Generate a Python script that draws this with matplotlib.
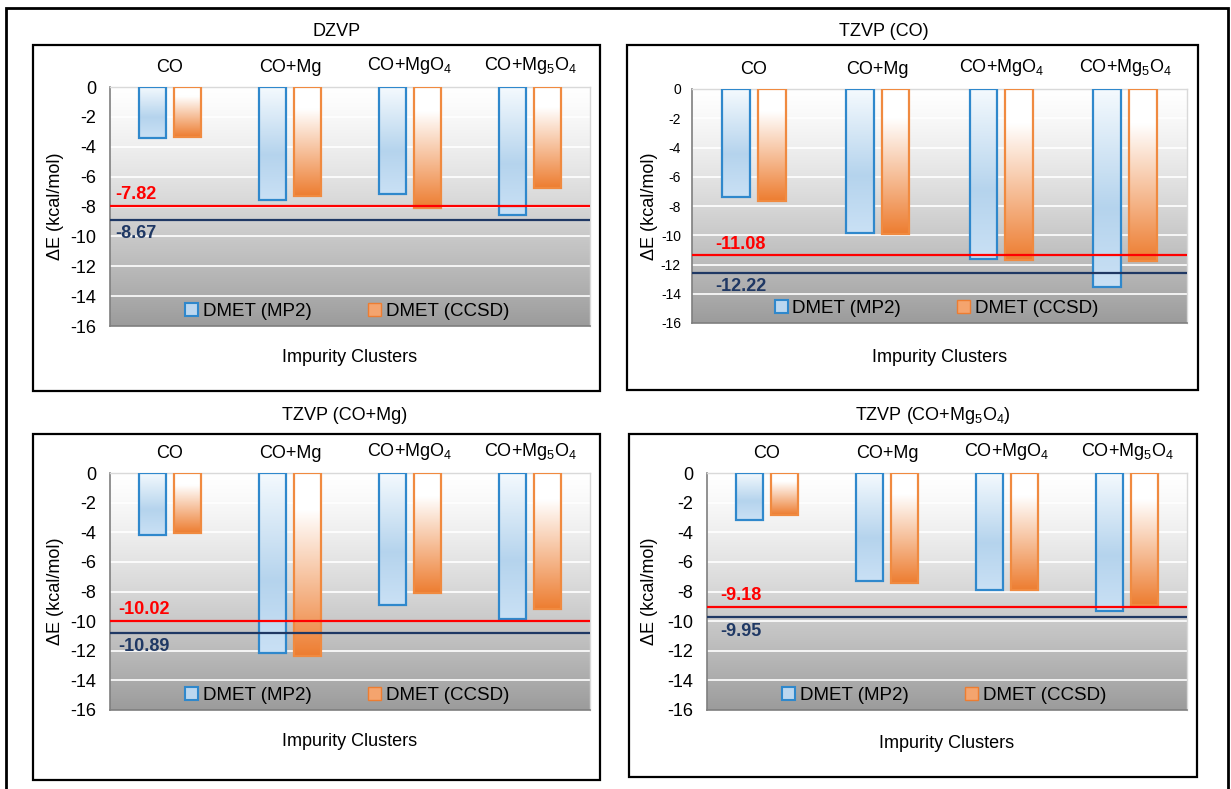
import numpy as np
import matplotlib
matplotlib.use("Agg")
import matplotlib.pyplot as plt
from matplotlib.colors import LinearSegmentedColormap
from matplotlib.patches import Rectangle, Patch

plt.rcParams["font.family"] = ["Liberation Sans", "DejaVu Sans"]
plt.rcParams["mathtext.fontset"] = "custom"
plt.rcParams["mathtext.rm"] = "Liberation Sans"
plt.rcParams["mathtext.default"] = "regular"
plt.rcParams["axes.unicode_minus"] = False

# ---- data (kcal/mol) ----
categories = ["CO", "CO+Mg", "CO+MgO$_4$", "CO+Mg$_5$O$_4$"]

dzvp_mp2 = [-3.44, -7.54, -7.14, -8.56]
dzvp_ccsd = [-3.35, -7.27, -8.09, -6.74]
dzvp_lines = [-7.98, -8.89]
dzvp_line_labels = ["-7.82", "-8.67"]

tzvp_co_mp2 = [-7.38, -9.84, -11.64, -13.53]
tzvp_co_ccsd = [-7.65, -9.89, -11.69, -11.75]
tzvp_co_lines = [-11.37, -12.55]
tzvp_co_line_labels = ["-11.08", "-12.22"]

tzvp_mg_mp2 = [-4.19, -12.18, -8.92, -9.89]
tzvp_mg_ccsd = [-4.05, -12.34, -8.11, -9.19]
tzvp_mg_lines = [-10.00, -10.79]
tzvp_mg_line_labels = ["-10.02", "-10.89"]

tzvp_mg5o4_mp2 = [-3.20, -7.27, -7.92, -9.35]
tzvp_mg5o4_ccsd = [-2.82, -7.45, -7.92, -8.90]
tzvp_mg5o4_lines = [-9.06, -9.73]
tzvp_mg5o4_line_labels = ["-9.18", "-9.95"]

W, H = 1231, 789
fig = plt.figure(figsize=(W / 100, H / 100), dpi=100)


def frac(x0, y0, x1, y1):
    return [x0 / W, 1 - y1 / H, (x1 - x0) / W, (y1 - y0) / H]


blue_cmap = LinearSegmentedColormap.from_list(
    "mp2", [(0, (0.96, 0.98, 0.995)), (0.6, (0.71, 0.83, 0.93)), (1, (0.79, 0.88, 0.96))])
orange_cmap = LinearSegmentedColormap.from_list(
    "ccsd", [(0, (1, 1, 1)), (0.2, (1, 1, 1)), (1, (0.93, 0.49, 0.19))])
bg_vals = 1 - 0.39 * np.linspace(0, 1, 256) ** 1.3
bg_img = np.dstack([bg_vals, bg_vals, bg_vals]).reshape(-1, 1, 3)

panels = [
    dict(title="DZVP", mp2=dzvp_mp2, ccsd=dzvp_ccsd, lines=dzvp_lines,
         labels=dzvp_line_labels, box=(33, 45, 600, 391), plot=(110, 87, 590, 326),
         title_x=337, title_y=32, xlab_y=357, ylab_x=56, tick_fs=13, tick_pad=10,
         lab_x=-0.46),
    dict(title="TZVP (CO)", mp2=tzvp_co_mp2, ccsd=tzvp_co_ccsd, lines=tzvp_co_lines,
         labels=tzvp_co_line_labels, box=(627, 45, 1198, 390), plot=(692, 89, 1187, 323),
         title_x=884, title_y=32, xlab_y=357, ylab_x=650, tick_fs=10, tick_pad=8,
         lab_x=-0.31),
    dict(title="TZVP (CO+Mg)", mp2=tzvp_mg_mp2, ccsd=tzvp_mg_ccsd, lines=tzvp_mg_lines,
         labels=tzvp_mg_line_labels, box=(33, 434, 600, 780), plot=(110, 473, 590, 710),
         title_x=345, title_y=415, xlab_y=742, ylab_x=56, tick_fs=13, tick_pad=10,
         lab_x=-0.43),
    dict(title="TZVP (CO+Mg$_5$O$_4$)", mp2=tzvp_mg5o4_mp2, ccsd=tzvp_mg5o4_ccsd,
         lines=tzvp_mg5o4_lines, labels=tzvp_mg5o4_line_labels, box=(629, 434, 1197, 777),
         plot=(707, 473, 1187, 710), title_x=933, title_y=415, xlab_y=744, ylab_x=650,
         tick_fs=13, tick_pad=10, lab_x=-0.39),
]

# outer frame
fig.add_artist(Rectangle((6 / W, -0.05), 1222 / W, 1 - 8 / H + 0.05, transform=fig.transFigure,
                         fill=False, edgecolor="black", lw=2))

x = np.arange(len(categories))
width = 0.225
off = 0.145

for p in panels:
    bx0, by0, bx1, by1 = p["box"]
    fig.add_artist(Rectangle((bx0 / W, 1 - by1 / H), (bx1 - bx0) / W, (by1 - by0) / H,
                             transform=fig.transFigure, fill=False, edgecolor="black", lw=1.6))
    px0, py0, px1, py1 = p["plot"]
    ax = fig.add_axes(frac(*p["plot"]))
    ax.imshow(bg_img, extent=[-0.5, 3.5, -16, 0], aspect="auto", zorder=0,
              interpolation="bilinear")
    for yv in range(-14, 1, 2):
        ax.axhline(yv, color="white" if yv < 0 else "#dddddd", lw=1.2, zorder=1)

    for vals, shift, cmap, edge in [(p["mp2"], -off, blue_cmap, "#2f88cc"),
                                    (p["ccsd"], off, orange_cmap, "#f08a40")]:
        bars = ax.bar(x + shift, vals, width, facecolor="none", edgecolor=edge,
                      lw=1.6, zorder=4)
        for b in bars:
            bxl = b.get_x()
            h = b.get_height()
            ax.imshow(np.linspace(0, 1, 256).reshape(-1, 1), cmap=cmap, aspect="auto",
                      extent=[bxl, bxl + b.get_width(), h, 0], origin="upper",
                      interpolation="bilinear", zorder=3)

    red_y, blue_y = p["lines"]
    ax.axhline(red_y, color="#ff0000", lw=1.6, zorder=5)
    ax.axhline(blue_y, color="#1f3864", lw=1.6, zorder=5)
    ax.annotate(p["labels"][0], (p["lab_x"], red_y), xytext=(0, 2), textcoords="offset points",
                color="#ff0000", fontsize=13, fontweight="bold", va="bottom", ha="left",
                zorder=6)
    ax.annotate(p["labels"][1], (p["lab_x"], blue_y), xytext=(0, -4), textcoords="offset points",
                color="#1f3864", fontsize=13, fontweight="bold", va="top", ha="left",
                zorder=6)

    ax.set_xlim(-0.5, 3.5)
    ax.set_ylim(-16, 0)
    ax.set_yticks(range(-16, 1, 2))
    ax.tick_params(axis="y", length=0, labelsize=p["tick_fs"], pad=p["tick_pad"])
    ax.xaxis.tick_top()
    ax.set_xticks(x)
    ax.set_xticklabels(categories, fontsize=13)
    ax.tick_params(axis="x", length=0, pad=8)
    for side in ["left", "bottom"]:
        ax.spines[side].set_color("#7f7f7f")
        ax.spines[side].set_linewidth(1.2)
    for side in ["top", "right"]:
        ax.spines[side].set_color("#d9d9d9")
        ax.spines[side].set_linewidth(1.0)

    handles = [Patch(facecolor="#bcd7ef", edgecolor="#2f88cc", lw=1.5),
               Patch(facecolor="#f4a46e", edgecolor="#ed7d31", lw=1.0)]
    ax.legend(handles, ["DMET (MP2)", "DMET (CCSD)"], loc="lower center",
              bbox_to_anchor=(0.494, -0.045), ncol=2, frameon=False, fontsize=13.5,
              handlelength=0.7, handleheight=0.7, handletextpad=0.25, columnspacing=3.0)

    cx = (px0 + px1) / 2
    fig.text(p["title_x"] / W, 1 - p["title_y"] / H, p["title"], ha="center", va="center",
             fontsize=13)
    fig.text(cx / W, 1 - p["xlab_y"] / H, "Impurity Clusters", ha="center", va="center",
             fontsize=13)
    fig.text(p["ylab_x"] / W, 1 - ((py0 + py1) / 2) / H, "ΔE (kcal/mol)", rotation=90,
             ha="center", va="center", fontsize=13)

fig.savefig("out.png", dpi=100, facecolor="white")
